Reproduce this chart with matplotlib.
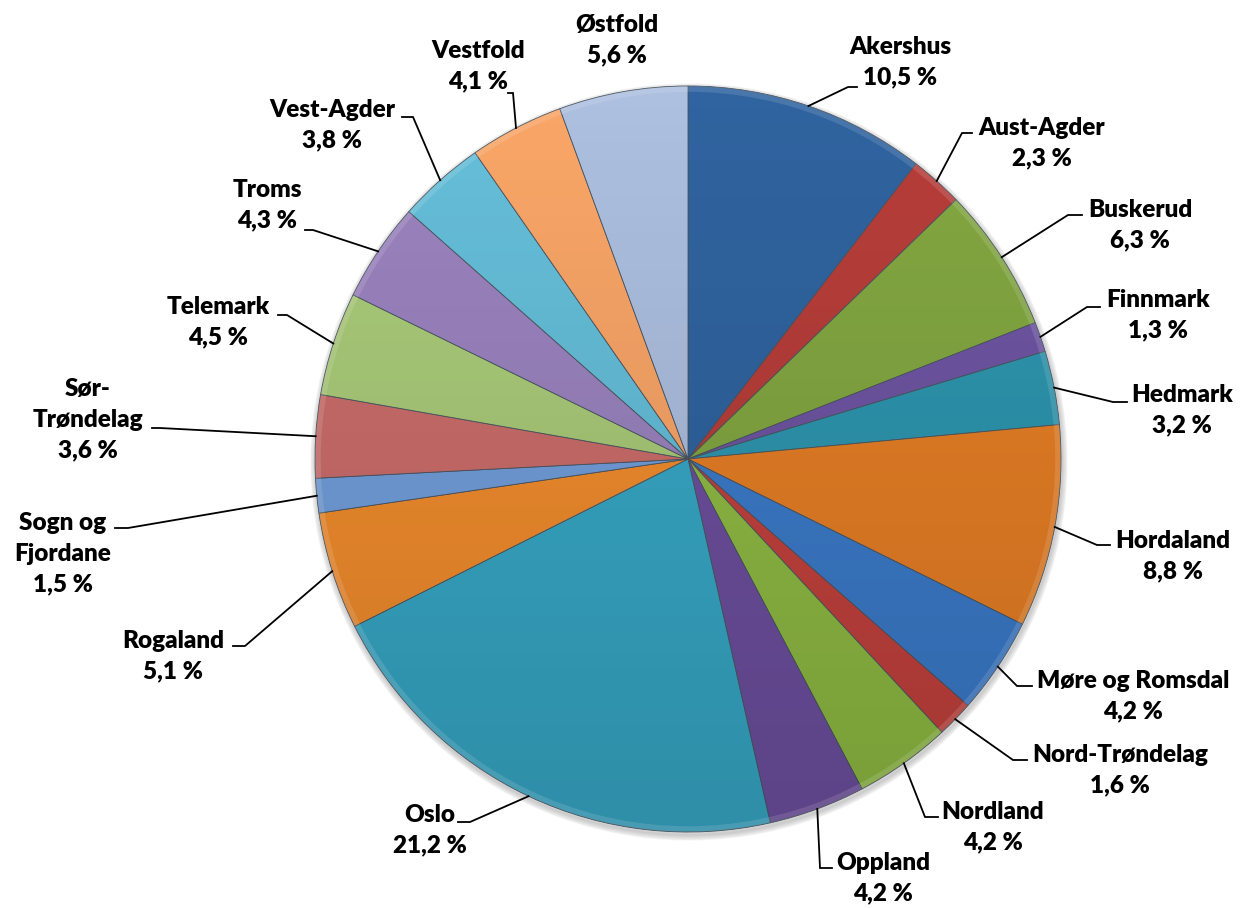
import numpy as np
import matplotlib
matplotlib.use('Agg')
import matplotlib.pyplot as plt
from matplotlib.patches import Circle

# share of total per county (%)
regions = ['Akershus', 'Aust-Agder', 'Buskerud', 'Finnmark', 'Hedmark', 'Hordaland',
           'Møre og Romsdal', 'Nord-Trøndelag', 'Nordland', 'Oppland', 'Oslo', 'Rogaland',
           'Sogn og Fjordane', 'Sør-Trøndelag', 'Telemark', 'Troms', 'Vest-Agder',
           'Vestfold', 'Østfold']
shares = [10.5, 2.3, 6.3, 1.3, 3.2, 8.8, 4.2, 1.6, 4.2, 4.2, 21.2, 5.1, 1.5, 3.6,
          4.5, 4.3, 3.8, 4.1, 5.6]
label_names = ['Akershus', 'Aust-Agder', 'Buskerud', 'Finnmark', 'Hedmark', 'Hordaland',
               'Møre og Romsdal', 'Nord-Trøndelag', 'Nordland', 'Oppland', 'Oslo',
               'Rogaland', 'Sogn og\nFjordane', 'Sør-\nTrøndelag', 'Telemark', 'Troms',
               'Vest-Agder', 'Vestfold', 'Østfold']

colors = ['#3064A0', '#B83E3A', '#84A842', '#6F56A4', '#2E97B0', '#E88026',
          '#3C7CCB', '#C4423E', '#90BC44', '#6E50A0', '#38A9C8', '#F48E2E',
          '#72A0DC', '#CC6E6C', '#ABCC7A', '#9C84C0', '#66BFDA', '#FAA668', '#ADC0E0']

# label layout in pixel coordinates (text centre, elbow of leader, end of leader)
label_xy = [(900, 62), (1042, 143), (1140, 225), (1158, 315), (1182, 410), (1173, 556),
            (1133, 696), (1120, 770), (993, 827), (883, 878), (430, 830), (173, 656),
            (63, 554), (88, 420), (218, 322), (267, 205), (332, 125), (478, 66), (617, 40)]
elbows = [(848, 87), (962, 133), (1068, 215), (1087, 307), (1113, 402), (1097, 545),
          (1017, 686), (1013, 760), (925, 817), (820, 868), (470, 822), (245, 646),
          (128, 528), (160, 428), (287, 315), (313, 230), (413, 117), (513, 93), None]
ends = [(857, 87), (972, 133), (1082, 215), (1100, 307), (1127, 402), (1110, 545),
        (1032, 686), (1027, 760), (938, 817), (832, 868), (458, 822), (233, 646),
        (115, 528), (152, 428), (278, 315), (305, 230), (402, 117), (508, 93), None]

W, H = 1240, 908
cx, cy, R = 688, H - 459, 373


def px(p):
    return p[0], H - p[1]


fig = plt.figure(figsize=(W / 100, H / 100), dpi=100)
ax = fig.add_axes([0, 0, 1, 1])

# soft shadow behind the pie
for k in range(6):
    ax.add_patch(Circle((cx + 1, cy - 3), R + 5 - k, color='black', alpha=0.03, zorder=0))

wedges, _ = ax.pie(shares, colors=colors, startangle=90, counterclock=False,
                   center=(cx, cy), radius=R, frame=True,
                   wedgeprops=dict(edgecolor='#4a5560', linewidth=0.6))
ax.set_xlim(0, W)
ax.set_ylim(0, H)
ax.set_aspect('equal')
ax.axis('off')

# subtle top-to-bottom darkening to hint at the bevelled look
shade = np.zeros((256, 1, 4))
shade[:, 0, 3] = np.linspace(0.0, 0.16, 256)
img = ax.imshow(shade, extent=(cx - R, cx + R, cy - R, cy + R), origin='upper',
                zorder=3, aspect='auto', interpolation='bilinear')
img.set_clip_path(Circle((cx, cy), R, transform=ax.transData))
ax.add_patch(Circle((cx, cy), R - 3, fill=False, edgecolor='white', alpha=0.12,
                    linewidth=4, zorder=4))
ax.set_xlim(0, W)
ax.set_ylim(0, H)

font = dict(family=['Lato', 'DejaVu Sans'], fontsize=17.5, fontweight='heavy')
for w, name, v, pos, el, en in zip(wedges, label_names, shares, label_xy, elbows, ends):
    txt = name + '\n' + f'{v:.1f} %'.replace('.', ',')
    tx, ty = px(pos)
    ax.text(tx, ty, txt, ha='center', va='center', multialignment='center',
            linespacing=1.48, color='black', zorder=6, **font)
    if el is None:
        continue
    ang = np.deg2rad((w.theta1 + w.theta2) / 2)
    x0, y0 = cx + R * np.cos(ang), cy + R * np.sin(ang)
    ex, ey = px(el)
    nx, ny = px(en)
    ax.plot([x0, ex, nx], [y0, ey, ny], color='black', linewidth=1.3, zorder=5,
            solid_joinstyle='miter')

fig.savefig('out.png', dpi=100, facecolor='white')
